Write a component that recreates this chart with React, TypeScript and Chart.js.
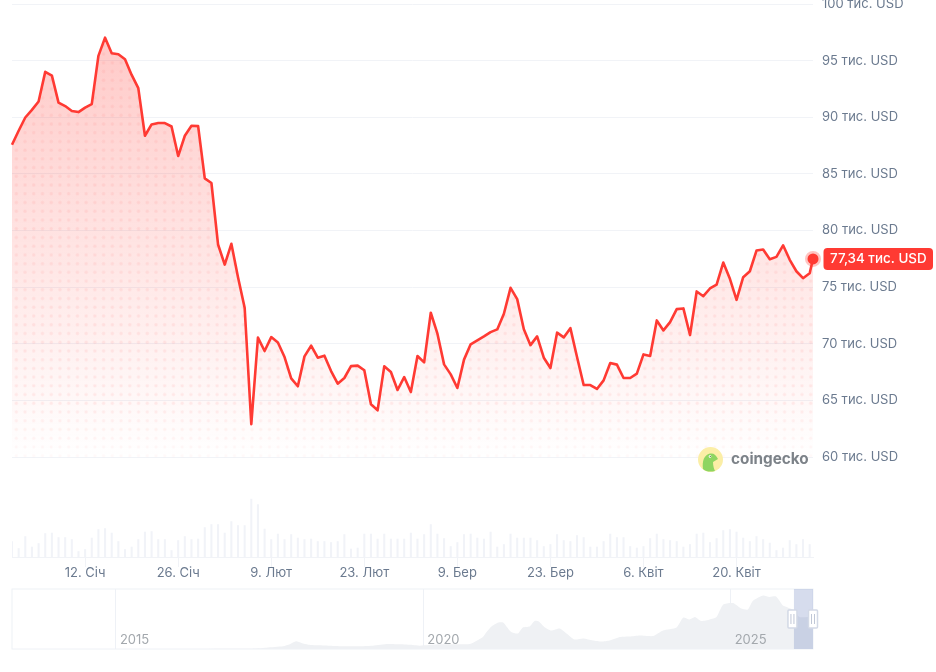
import { useEffect, useRef } from 'react';
import { Chart, registerables } from 'chart.js';

Chart.register(...registerables);

// BTC price, thousand USD, one point a day from 1 Jan
const prices = [
  87.58, 88.81, 89.98, 90.66, 91.39, 94.01, 93.68, 91.3, 90.99, 90.55, 90.46, 90.86, 91.16, 95.42, 97.03, 95.66,
  95.57, 95.13, 93.74, 92.57, 88.37, 89.37, 89.49, 89.49, 89.19, 86.58, 88.37, 89.25, 89.22, 84.61, 84.2, 78.77,
  77.0, 78.83, 75.89, 73.19, 62.91, 70.55, 69.37, 70.6, 70.13, 68.84, 66.96, 66.26, 68.9, 69.84, 68.78, 68.96,
  67.6, 66.49, 66.99, 68.04, 68.08, 67.67, 64.67, 64.14, 68.02, 67.52, 65.93, 67.07, 65.75, 68.93, 68.37, 72.75,
  70.9, 68.19, 67.31, 66.11, 68.61, 69.96, 70.31, 70.66, 71.04, 71.28, 72.66, 74.95, 73.95, 71.3, 69.89, 70.66,
  68.78, 67.87, 70.99, 70.57, 71.39, 68.84, 66.37, 66.37, 66.02, 66.78, 68.31, 68.17, 66.99, 66.99, 67.37, 69.07,
  68.93, 72.07, 71.19, 71.92, 73.07, 73.13, 70.78, 74.63, 74.21, 74.89, 75.24, 77.18, 75.74, 73.89, 75.89, 76.41,
  78.24, 78.33, 77.47, 77.68, 78.7, 77.42, 76.41, 75.8, 76.24, 77.5,
];
const lastPriceDay = 120.5;
const lastPriceLabel = '77,34 тис. USD';

// traded volume, billion USD
const volumes = [
  31, 17, 41, 20, 27, 47, 48, 39, 39, 35, 11, 15, 38, 55, 57, 48, 31, 15, 20, 35, 50, 51, 35, 35, 13, 33, 41, 35, 36,
  59, 65, 65, 48, 71, 63, 63, 116, 105, 56, 35, 46, 35, 45, 38, 35, 36, 31, 31, 29, 31, 45, 16, 18, 46, 46, 36, 46,
  36, 36, 36, 48, 36, 45, 65, 46, 37, 21, 29, 45, 46, 38, 36, 50, 20, 25, 46, 38, 38, 38, 33, 21, 25, 45, 33, 31, 43,
  39, 20, 20, 31, 46, 39, 39, 21, 18, 21, 37, 46, 35, 33, 31, 20, 25, 46, 48, 29, 37, 53, 55, 50, 38, 31, 41, 35, 28,
  13, 18, 33, 25, 35, 25,
];

const priceTicks = [60, 65, 70, 75, 80, 85, 90, 95, 100];
const dayTicks = [11, 25, 39, 53, 67, 81, 95, 109];
const dayLabels = ['12. Січ', '26. Січ', '9. Лют', '23. Лют', '9. Бер', '23. Бер', '6. Квіт', '20. Квіт'];

// navigator: whole history
const navYears = [
  2013.31, 2017.18, 2017.45, 2017.72, 2017.83, 2017.93, 2018.02, 2018.13, 2018.32, 2018.53, 2018.86, 2019.18, 2019.43,
  2019.62, 2019.83, 2019.94, 2020.27, 2020.49, 2020.76, 2020.86, 2020.97, 2021.03, 2021.11, 2021.22, 2021.3, 2021.36,
  2021.43, 2021.54, 2021.62, 2021.73, 2021.81, 2021.88, 2021.98, 2022.08, 2022.22, 2022.33, 2022.46, 2022.6, 2022.76,
  2022.9, 2023.03, 2023.2, 2023.36, 2023.52, 2023.74, 2023.9, 2024.12, 2024.23, 2024.33, 2024.42, 2024.52, 2024.66,
  2024.77, 2024.88, 2025.04, 2025.17, 2025.28, 2025.36, 2025.53, 2025.63, 2025.74, 2025.85, 2025.93, 2026.01, 2026.12,
  2026.26, 2026.34,
];
const navPrices = [
  0.1, 0.7, 2.7, 5.3, 9.3, 15.3, 12, 8.7, 7.3, 6, 5.3, 6.7, 10, 9.3, 8, 6.7, 9.3, 9.3, 10, 16, 24, 34, 45, 53, 53, 44,
  34, 31, 43, 45, 56, 55, 43, 37, 41, 31, 19, 21, 17, 15, 17, 24, 25, 27, 26, 37, 43, 63, 59, 64, 56, 59, 64, 89, 92,
  81, 79, 96, 107, 104, 105, 87, 83, 79, 64, 64, 67,
];
const navTicks = [2015, 2020, 2025];
const navRange = [2026.03, 2026.34];

const RED = '#ff3a33';
const SLATE = '#6b7a8f';
const GRID = '#f1f3f7';
const FONT = 'Inter, sans-serif';

// gradient with a faint dot lattice baked in, used as the area fill
function makeAreaPattern(chart: any) {
  const { width, height } = chart;
  const y = chart.scales.y;
  const top = y.getPixelForValue(97);
  const bottom = y.getPixelForValue(60);
  const off = document.createElement('canvas');
  off.width = width;
  off.height = height;
  const c = off.getContext('2d') as CanvasRenderingContext2D;
  const g = c.createLinearGradient(0, top, 0, bottom);
  g.addColorStop(0, 'rgba(255,58,51,0.27)');
  g.addColorStop(1, 'rgba(255,58,51,0)');
  c.fillStyle = g;
  c.fillRect(0, 0, width, bottom);
  for (let py = bottom - 1.5; py > top - 10; py -= 8.73) {
    const fade = Math.min(1, (bottom - py) / 60);
    c.fillStyle = `rgba(255,58,51,${0.015 + 0.025 * fade})`;
    for (let px = 16.3; px < width; px += 8.73) {
      c.beginPath();
      c.arc(px, py, 2, 0, Math.PI * 2);
      c.fill();
      c.beginPath();
      c.arc(px, py, 1.2, 0, Math.PI * 2);
      c.fill();
    }
  }
  return c.createPattern(off, 'no-repeat');
}

const priceBadge = {
  id: 'priceBadge',
  afterDatasetsDraw(chart: any) {
    const { ctx, scales } = chart;
    const py = scales.y.getPixelForValue(prices[prices.length - 1]);
    const left = scales.x.right + 10.5;
    ctx.save();
    ctx.fillStyle = RED;
    ctx.beginPath();
    ctx.roundRect(left, py - 11, 109.5, 22, 4);
    ctx.fill();
    ctx.fillStyle = '#fff';
    ctx.font = `500 13.4px ${FONT}`;
    ctx.textAlign = 'left';
    ctx.textBaseline = 'middle';
    ctx.fillText(lastPriceLabel, left + 6.5, py + 0.5);
    ctx.restore();
  },
};

const navOverlay = {
  id: 'navOverlay',
  afterDatasetsDraw(chart: any) {
    const { ctx, chartArea, scales } = chart;
    const a = scales.x.getPixelForValue(navRange[0]);
    const b = scales.x.getPixelForValue(navRange[1]);
    const h = chartArea.bottom - chartArea.top;
    ctx.save();
    ctx.strokeStyle = '#eef1f6';
    ctx.lineWidth = 1;
    ctx.strokeRect(chartArea.left, chartArea.top, chartArea.right - chartArea.left, h);
    ctx.fillStyle = 'rgba(62,92,170,0.21)';
    ctx.fillRect(a, chartArea.top, b - a, h);
    [a - 1.5, b].forEach((x) => {
      const midY = chartArea.top + 30;
      ctx.fillStyle = '#fff';
      ctx.strokeStyle = '#d3d9e6';
      ctx.lineWidth = 1.5;
      ctx.beginPath();
      ctx.roundRect(x - 4.5, midY - 9, 9, 18, 1);
      ctx.fill();
      ctx.stroke();
      ctx.fillStyle = '#c0c7d6';
      ctx.fillRect(x - 2, midY - 5, 1, 10);
      ctx.fillRect(x + 1, midY - 5, 1, 10);
    });
    ctx.restore();
  },
};

export default function App() {
  const mainRef = useRef<HTMLCanvasElement>(null);
  const navRef = useRef<HTMLCanvasElement>(null);

  useEffect(() => {
    let areaPattern: any = null;
    const lastIndex = prices.length - 1;

    const main = new Chart(mainRef.current as HTMLCanvasElement, {
      type: 'line',
      data: {
        datasets: [
          {
            type: 'line',
            data: prices.map((v, i) => ({ x: i === lastIndex ? lastPriceDay : i, y: v })),
            yAxisID: 'y',
            borderColor: RED,
            borderWidth: 2.6,
            borderJoinStyle: 'round',
            tension: 0,
            clip: false,
            fill: { value: 60 },
            backgroundColor: (ctx: any) => {
              const chart = ctx.chart;
              if (!chart.chartArea) return 'rgba(255,58,51,0.12)';
              if (!areaPattern) areaPattern = makeAreaPattern(chart);
              return areaPattern;
            },
            pointRadius: (ctx: any) => (ctx.dataIndex === lastIndex ? 5.5 : 0),
            pointBackgroundColor: RED,
            pointBorderColor: 'rgba(255,58,51,0.3)',
            pointBorderWidth: 5,
          },
          {
            type: 'bar',
            data: volumes.map((v, i) => ({ x: i, y: v })),
            yAxisID: 'vol',
            backgroundColor: '#f1f3f8',
            barThickness: 1.4,
          },
        ] as any,
      },
      options: {
        responsive: false,
        animation: false,
        events: [],
        layout: { padding: { left: 12, top: 24 } },
        plugins: { legend: { display: false }, tooltip: { enabled: false } },
        scales: {
          x: {
            type: 'linear',
            offset: false,
            min: 0,
            max: lastPriceDay,
            afterBuildTicks: (s: any) => {
              s.ticks = dayTicks.map((value) => ({ value }));
            },
            afterFit: (s: any) => {
              s.height = 28;
            },
            grid: { offset: false, drawOnChartArea: false, color: GRID, tickLength: 10 },
            border: { color: GRID },
            ticks: {
              autoSkip: false,
              maxRotation: 0,
              padding: -1.5,
              color: SLATE,
              font: { family: FONT, size: 13 },
              callback: (v: any) => dayLabels[dayTicks.indexOf(v)],
            },
          },
          y: {
            position: 'right',
            min: 51.19,
            max: 100,
            afterBuildTicks: (s: any) => {
              s.ticks = priceTicks.map((value) => ({ value }));
            },
            afterFit: (s: any) => {
              s.width = 123;
            },
            grid: { color: GRID, drawTicks: false },
            border: { display: false },
            ticks: {
              padding: 9,
              color: SLATE,
              font: { family: FONT, size: 13 },
              callback: (v: any) => `${v} тис. USD`,
            },
          },
          vol: { display: false, min: 0, max: 1108 },
        },
      } as any,
      plugins: [priceBadge],
    });

    const nav = new Chart(navRef.current as HTMLCanvasElement, {
      type: 'line',
      data: {
        datasets: [
          {
            data: navYears.map((x, i) => ({ x, y: navPrices[i] })),
            borderWidth: 0,
            pointRadius: 0,
            tension: 0.2,
            fill: 'origin',
            backgroundColor: '#eff1f4',
          },
        ],
      },
      options: {
        responsive: false,
        animation: false,
        events: [],
        layout: { padding: { left: 12, right: 123, top: 4, bottom: 23 } },
        plugins: { legend: { display: false }, tooltip: { enabled: false } },
        scales: {
          x: {
            type: 'linear',
            min: navYears[0],
            max: navRange[1],
            afterBuildTicks: (s: any) => {
              s.ticks = navTicks.map((value) => ({ value }));
            },
            afterFit: (s: any) => {
              s.height = 0;
            },
            grid: { color: '#eef1f6', drawTicks: false },
            border: { display: false },
            ticks: {
              z: 1,
              mirror: true,
              align: 'start',
              padding: 1,
              labelOffset: 4,
              autoSkip: false,
              maxRotation: 0,
              color: '#a3a8ad',
              font: { family: FONT, size: 13 },
              callback: (v: any) => String(v),
            },
          },
          y: { display: false, min: 0, max: 120 },
        },
      } as any,
      plugins: [navOverlay],
    });

    return () => {
      main.destroy();
      nav.destroy();
    };
  }, []);

  return (
    <div style={{ position: 'absolute', left: 0, top: 0, width: 936, height: 672, overflow: 'hidden', background: '#fff' }}>
      <canvas ref={mainRef} width={936} height={605} style={{ position: 'absolute', left: 0, top: -20 }} />
      <canvas ref={navRef} width={936} height={87} style={{ position: 'absolute', left: 0, top: 585 }} />
      <svg width={26} height={26} viewBox="0 0 26 26" style={{ position: 'absolute', left: 698, top: 447 }}>
        <circle cx={12.5} cy={12.5} r={12.5} fill="#fbeea6" />
        <path d="M5 22 C4 14 6 8 12 6.5 C16 6 18 8 20 12 L15 15 C15 19 16 22 17 24 C13 25 8 25 5 22 Z" fill="#8ed561" />
        <circle cx={12} cy={9.5} r={1.3} fill="#fff" />
        <circle cx={12.3} cy={9.5} r={0.6} fill="#4a5a3a" />
      </svg>
      <span
        style={{
          position: 'absolute',
          left: 731,
          top: 450,
          fontFamily: FONT,
          fontWeight: 700,
          fontSize: 15.3,
          lineHeight: '18px',
          color: '#7c8288',
        }}
      >
        coingecko
      </span>
    </div>
  );
}
